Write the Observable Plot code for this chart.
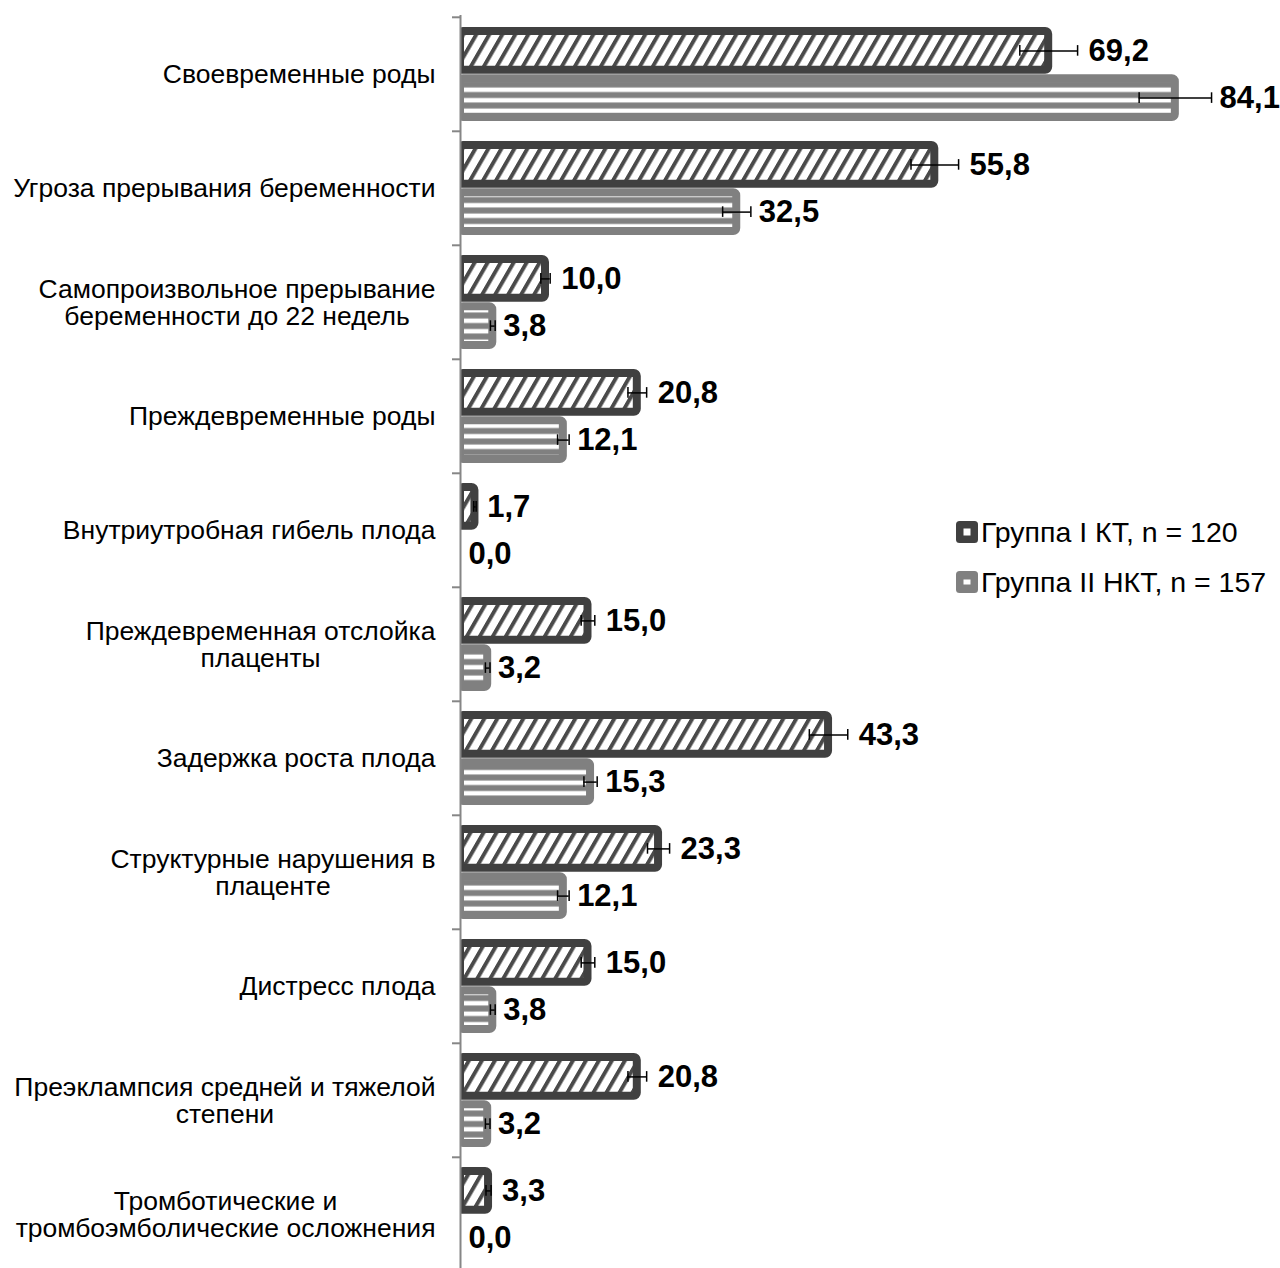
<!DOCTYPE html>
<html>
<head>
<meta charset="utf-8">
<script src="https://cdn.jsdelivr.net/npm/d3@7"></script>
<script src="https://cdn.jsdelivr.net/npm/@observablehq/plot@0.6"></script>
<style>
  body { margin: 0; background: #fff; font-family: "Liberation Sans", Arial, sans-serif; }
  #wrap { position: relative; width: 1280px; height: 1268px; overflow: hidden; }
  .legend { position: absolute; left: 956px; top: 521px; font-size: 28.5px; color: #000; }
  .legend .item { display: flex; align-items: center; height: 22px; margin-bottom: 28px; white-space: nowrap; }
  .legend svg { display: block; margin-right: 3px; flex: none; }
</style>
</head>
<body>
<div id="wrap"></div>
<script>
// ---- data ----
const categories = [
  "Своевременные роды",
  "Угроза прерывания беременности",
  "Самопроизвольное прерывание\nбеременности до 22 недель",
  "Преждевременные роды",
  "Внутриутробная гибель плода",
  "Преждевременная отслойка\nплаценты",
  "Задержка роста плода",
  "Структурные нарушения в\nплаценте",
  "Дистресс плода",
  "Преэклампсия средней и тяжелой\nстепени",
  "Тромботические и\nтромбоэмболические осложнения"
];
const groups = ["Группа I КТ, n = 120", "Группа II НКТ, n = 157"];
const valuesKT  = [69.2, 55.8, 10.0, 20.8, 1.7, 15.0, 43.3, 23.3, 15.0, 20.8, 3.3];
const valuesNKT = [84.1, 32.5, 3.8, 12.1, 0.0, 3.2, 15.3, 12.1, 3.8, 3.2, 0.0];
const errorsKT  = [3.4, 2.8, 0.55, 1.1, 0.14, 0.8, 2.26, 1.3, 0.8, 1.1, 0.3];
const errorsNKT = [4.26, 1.66, 0.28, 0.68, 0, 0.27, 0.78, 0.68, 0.28, 0.27, 0];

// ---- styling / layout ----
const W = 1280, H = 1268;
const mLeft = 460, mRight = 55, yTop = 15, step = 114.4;
const pad = 10, barH = 47.2, sw = 8;
const darkC = "#404040", hatchC = "#4a4a4a", grayC = "#808080", axisC = "#868686";
const capH = 11;

const rowsKT = categories.map((c, i) => ({cat: c, value: valuesKT[i], err: errorsKT[i]}));
const rowsNKT = categories.map((c, i) => ({cat: c, value: valuesNKT[i], err: errorsNKT[i]}));
const fmt = v => v.toFixed(1).replace(".", ",");

const centerOff = step / 2 - (pad + barH / 2); // distance of each bar centre from band centre
const ktInset = {insetTop: pad + sw / 2, insetBottom: step - pad - barH + sw / 2};
const nktInset = {insetTop: pad + barH + sw / 2, insetBottom: pad + sw / 2};
const ktCap = {insetTop: pad + barH / 2 - capH / 2, insetBottom: step - pad - barH / 2 - capH / 2};
const nktCap = {insetTop: step - pad - barH / 2 - capH / 2, insetBottom: pad + barH / 2 - capH / 2};

const defsMark = () => {
  const defs = d3.create("svg:defs");
  const p1 = defs.append("pattern").attr("id", "hatchKT").attr("patternUnits", "userSpaceOnUse")
    .attr("width", 13).attr("height", 13).attr("patternTransform", "skewX(-30)");
  p1.append("rect").attr("width", 13).attr("height", 13).attr("fill", "#fff");
  p1.append("rect").attr("width", 4.5).attr("height", 13).attr("fill", hatchC);
  const p2 = defs.append("pattern").attr("id", "stripeNKT").attr("patternUnits", "userSpaceOnUse")
    .attr("width", 20).attr("height", 10.5);
  p2.append("rect").attr("width", 20).attr("height", 10.5).attr("fill", grayC);
  p2.append("rect").attr("y", 3.5).attr("width", 20).attr("height", 4.5).attr("fill", "#fff");
  return defs.node();
};

const errMarks = (rows, off, cap) => {
  const r = rows.filter(d => d.err > 0);
  return [
    Plot.ruleY(r, {y: "cat", x1: d => d.value - d.err, x2: d => d.value + d.err, dy: off, stroke: "#000", strokeWidth: 1.5}),
    Plot.tickX(r, {y: "cat", x: d => d.value - d.err, stroke: "#000", strokeWidth: 1.5, ...cap}),
    Plot.tickX(r, {y: "cat", x: d => d.value + d.err, stroke: "#000", strokeWidth: 1.5, ...cap})
  ];
};

const chart = Plot.plot({
  width: W,
  height: H,
  marginLeft: mLeft,
  marginRight: mRight,
  marginTop: yTop,
  marginBottom: 0,
  style: {fontFamily: "'Liberation Sans', Arial, sans-serif", background: "#fff", overflow: "visible"},
  x: {domain: [0, 90], axis: null},
  y: {type: "band", domain: categories, range: [yTop, yTop + step * categories.length], padding: 0, label: null},
  marks: [
    defsMark,
    Plot.barX(rowsKT.filter(d => d.value > 0), {x: "value", y: "cat", fill: "url(#hatchKT)", stroke: darkC, strokeWidth: sw, rx: 3, clip: true, ...ktInset}),
    Plot.barX(rowsNKT.filter(d => d.value > 0), {x: "value", y: "cat", fill: "url(#stripeNKT)", stroke: grayC, strokeWidth: sw, rx: 3, clip: true, ...nktInset}),
    Plot.ruleX([0], {stroke: axisC, strokeWidth: 2}),
    Plot.axisY({tickSize: 8, stroke: axisC, strokeWidth: 2, fill: "none", dy: -step / 2, label: null}),
    Plot.text(categories, {y: d => d, text: d => d, frameAnchor: "left", textAnchor: "end", dx: -25, fontSize: 26.5, lineHeight: 1.05, fill: "#000"}),
    ...errMarks(rowsKT, -centerOff, ktCap),
    ...errMarks(rowsNKT, centerOff, nktCap),
    Plot.text(rowsKT, {y: "cat", x: d => d.value + d.err, text: d => fmt(d.value), textAnchor: "start", dx: 11, dy: -centerOff, fontSize: 31, fontWeight: "bold", fill: "#000"}),
    Plot.text(rowsNKT, {y: "cat", x: d => d.value + d.err, text: d => fmt(d.value), textAnchor: "start", dx: 8, dy: centerOff, fontSize: 31, fontWeight: "bold", fill: "#000"})
  ]
});

const wrap = document.getElementById("wrap");
wrap.appendChild(chart);

// centre the lines of multi-line category labels relative to each other
chart.querySelectorAll("text").forEach(t => {
  const spans = t.querySelectorAll("tspan");
  if (spans.length < 2) return;
  const w = d3.max(Array.from(spans), s => s.getComputedTextLength());
  t.setAttribute("text-anchor", "middle");
  spans.forEach(s => s.setAttribute("x", -w / 2));
});

// legend
const legend = document.createElement("div");
legend.className = "legend";
const swatches = [
  {fill: darkC, inner: [7, 7]},
  {fill: grayC, inner: [7, 5]}
];
groups.forEach((g, i) => {
  const item = document.createElement("div");
  item.className = "item";
  const s = swatches[i];
  item.innerHTML = `<svg width="22" height="22"><rect width="22" height="22" rx="3.5" fill="${s.fill}"/>` +
    `<rect x="${(22 - s.inner[0]) / 2}" y="${(22 - s.inner[1]) / 2}" width="${s.inner[0]}" height="${s.inner[1]}" fill="#fff"/></svg>`;
  const span = document.createElement("span");
  span.textContent = g;
  item.appendChild(span);
  legend.appendChild(item);
});
wrap.appendChild(legend);
</script>
</body>
</html>
